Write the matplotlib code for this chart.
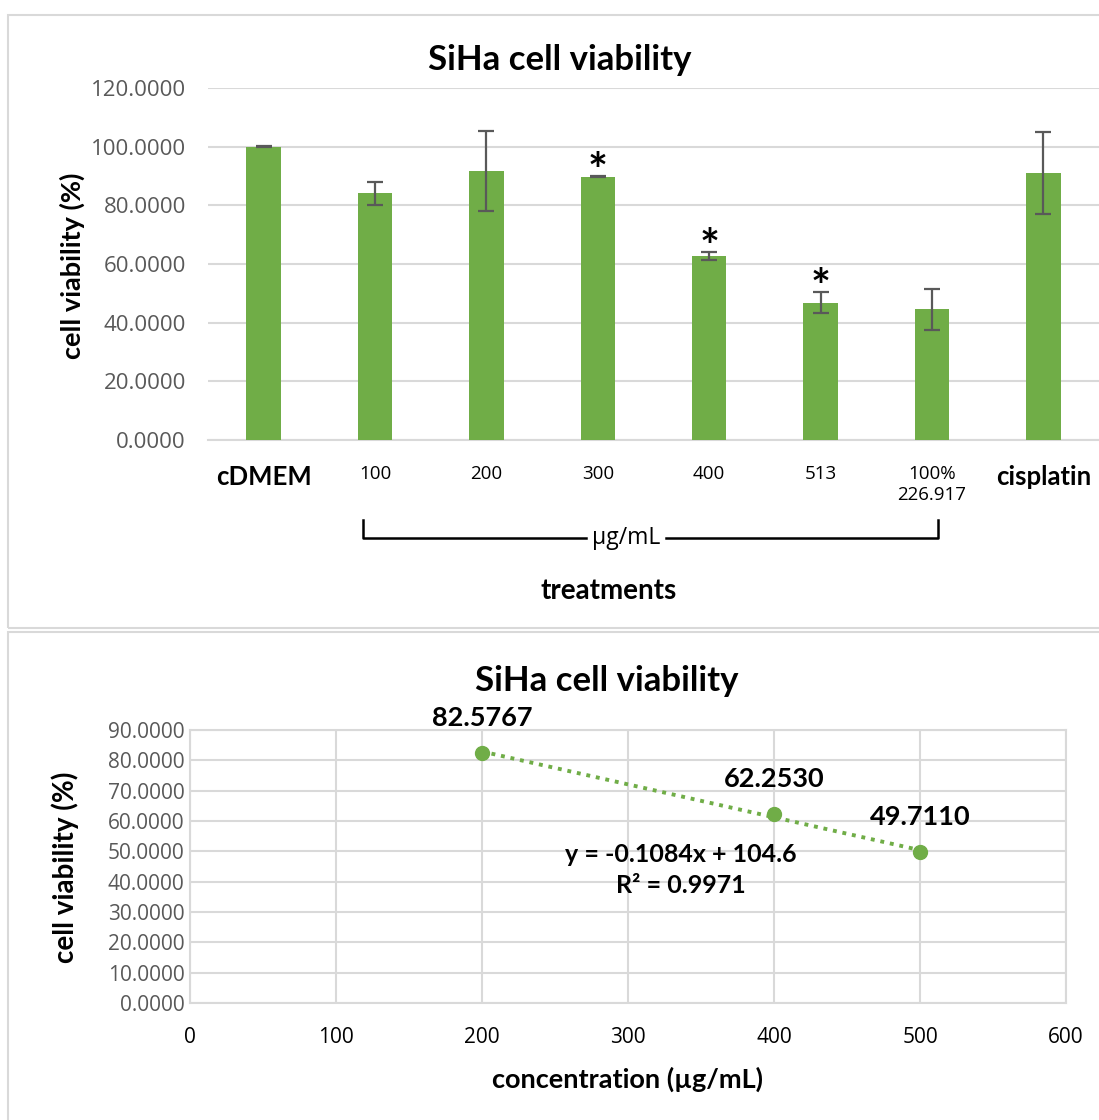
import numpy as np
import matplotlib
matplotlib.use("Agg")
import matplotlib.pyplot as plt
from matplotlib.patches import Rectangle
from matplotlib.lines import Line2D
import matplotlib.transforms as mtransforms

plt.rcParams["font.family"] = ["Lato", "DejaVu Sans"]

GREEN = "#70AD47"
GRID = "#D9D9D9"
TICK = "#595959"

# --- top chart data (bar chart with SD) ---
treatments = ["cDMEM", "100", "200", "300", "400", "513", "100%\n226.917", "cisplatin"]
viability = [100.0, 84.1, 91.8, 89.8, 62.8, 46.8, 44.5, 90.9]
sd = [0.2, 4.0, 13.6, 0.3, 1.4, 3.6, 6.9, 14.0]
significant = [False, False, False, True, True, True, False, False]
bold_labels = ["cDMEM", "cisplatin"]

# --- bottom chart data (dose response) ---
conc = [200, 400, 500]
conc_viability = [82.5767, 62.2530, 49.7110]

fig = plt.figure(figsize=(10.99, 11.2), dpi=100, facecolor="white")

# panel frames
W, H = 1099, 1120
for (x0, y0, x1, y1) in [(8, 15, 1105, 628), (8, 632, 1105, 1125)]:
    fig.patches.append(Rectangle((x0 / W, 1 - y1 / H), (x1 - x0) / W, (y1 - y0) / H,
                                 transform=fig.transFigure, fill=False,
                                 edgecolor=GRID, linewidth=1.5))

# ---------------- top: bar chart ----------------
ax = fig.add_axes([208 / W, 1 - 440 / H, 891 / W, 352 / H])
x = np.arange(len(treatments))
ax.bar(x, viability, width=0.31, color=GREEN, zorder=3)
ax.errorbar(x, viability, yerr=sd, fmt="none", ecolor=TICK, elinewidth=1.6,
            capsize=6, capthick=1.6, zorder=4)
for xi, v, e, s in zip(x, viability, sd, significant):
    if s:
        ax.annotate("*", (xi, v + e), xytext=(0, -8), textcoords="offset points",
                    ha="center", va="baseline", fontsize=34, fontweight="bold",
                    color="black", zorder=5)

ax.set_xlim(-0.5, len(treatments) - 0.5)
ax.set_ylim(0, 120)
ax.set_yticks(np.arange(0, 121, 20))
ax.set_yticklabels([f"{v:.4f}" for v in np.arange(0, 121, 20)],
                   fontfamily="Open Sans", fontsize=16, color=TICK)
ax.grid(axis="y", color=GRID, linewidth=1.5, zorder=0)
ax.set_axisbelow(True)
for s in ["top", "right", "left"]:
    ax.spines[s].set_visible(False)
ax.spines["bottom"].set_color(GRID)
ax.spines["bottom"].set_linewidth(1.5)
ax.tick_params(axis="y", length=0, pad=16)
ax.tick_params(axis="x", length=0, pad=18)
ax.set_xticks(x)
ax.set_xticklabels(treatments, va="top")
for lab in ax.get_xticklabels():
    if lab.get_text() in bold_labels:
        lab.set_fontsize(18.5)
        lab.set_fontweight("bold")
    else:
        lab.set_fontsize(13.5)
        lab.set_fontfamily("Open Sans")
    lab.set_color("black")

fig.text(560 / W, 1 - 60 / H, "SiHa cell viability", ha="center", va="center",
         fontsize=25, fontweight="bold")
ax.set_ylabel("cell viability (%)", fontsize=19.5, fontweight="bold")
ax.yaxis.set_label_coords((72 - 208) / 891, 0.494)
ax.yaxis.label.set_va("center")

# bracket for µg/mL group
trans = mtransforms.blended_transform_factory(ax.transData, ax.transAxes)
bx0, bx1 = 0.89, 6.05
y_top, y_bot = -0.227, -0.278
for xs, ys in [([bx0, bx0, 2.89], [y_top, y_bot, y_bot]),
               ([3.61, bx1, bx1], [y_bot, y_bot, y_top])]:
    ax.add_line(Line2D(xs, ys, transform=trans, color="black", linewidth=1.8,
                       clip_on=False))
ax.text(3.25, y_bot, "µg/mL", transform=trans, ha="center", va="center",
        fontsize=16.5, fontfamily="Open Sans")
ax.text(3.1, -0.429, "treatments", transform=trans, ha="center", va="center",
        fontsize=20, fontweight="bold")

# ---------------- bottom: dose response ----------------
ax2 = fig.add_axes([190 / W, 1 - 1003 / H, 876 / W, 273 / H])
slope, intercept = np.polyfit(conc, conc_viability, 1)
pred = np.polyval([slope, intercept], conc)
r2 = 1 - np.sum((np.array(conc_viability) - pred) ** 2) / \
    np.sum((np.array(conc_viability) - np.mean(conc_viability)) ** 2)
xf = np.array([min(conc), max(conc)])
ax2.plot(xf, slope * xf + intercept, color=GREEN, linestyle=(0, (1, 1.5)),
         linewidth=2.8, zorder=3)
ax2.plot(conc, conc_viability, "o", color=GREEN, markersize=10, zorder=4)
for c, v in zip(conc, conc_viability):
    ax2.annotate(f"{v:.4f}", (c, v), xytext=(0, 25), textcoords="offset points",
                 ha="center", va="center", fontsize=19.5, fontweight="bold")
ax2.text(336, 49.1, f"y = {slope:.4f}x + {intercept:.1f}", ha="center",
         va="center", fontsize=18, fontweight="bold")
ax2.text(336, 38.6, f"R² = {r2:.4f}", ha="center", va="center", fontsize=18,
         fontweight="bold")

ax2.set_xlim(0, 600)
ax2.set_ylim(0, 90)
ax2.set_xticks(np.arange(0, 601, 100))
ax2.set_xticklabels([str(v) for v in range(0, 601, 100)], fontfamily="Open Sans",
                    fontsize=15, color="black")
ax2.set_yticks(np.arange(0, 91, 10))
ax2.set_yticklabels([f"{v:.4f}" for v in np.arange(0, 91, 10)],
                    fontfamily="Open Sans", fontsize=15, color=TICK)
ax2.grid(True, color=GRID, linewidth=1.5, zorder=0)
ax2.set_axisbelow(True)
for s in ax2.spines.values():
    s.set_color(GRID)
    s.set_linewidth(1.5)
ax2.tick_params(length=0)
ax2.tick_params(axis="x", pad=17)
ax2.tick_params(axis="y", pad=4)
fig.text(607 / W, 1 - 681 / H, "SiHa cell viability", ha="center", va="center",
         fontsize=25, fontweight="bold")
ax2.set_ylabel("cell viability (%)", fontsize=20, fontweight="bold")
ax2.yaxis.set_label_coords((65 - 190) / 876, 0.498)
ax2.yaxis.label.set_va("center")
ax2.set_xlabel("concentration (µg/mL)", fontsize=19.5, fontweight="bold")
ax2.xaxis.set_label_coords((627 - 190) / 876, (1003 - 1079) / 273)
ax2.xaxis.label.set_va("center")

fig.savefig("out.png", dpi=100, facecolor="white")
